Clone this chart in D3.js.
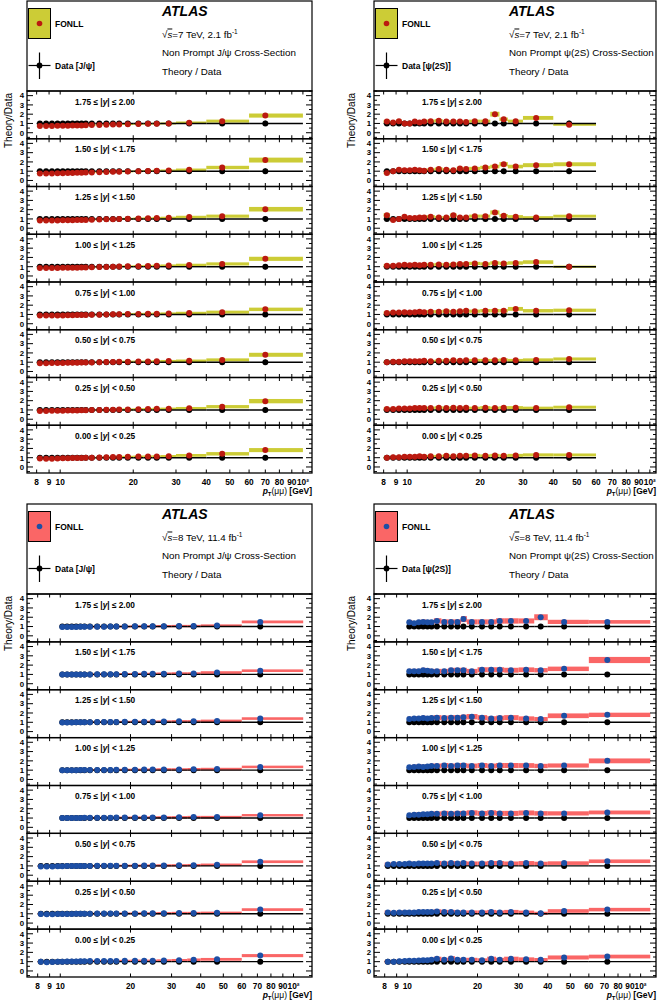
<!DOCTYPE html>
<html><head><meta charset="utf-8">
<script src="https://cdn.jsdelivr.net/npm/d3@7"></script>
<style>body{margin:0;background:#fff} svg{display:block}</style>
</head><body>
<script>
// ---------------- DATA ----------------
const rapLow  = ["1.75","1.50","1.25","1.00","0.75","0.50","0.25","0.00"];
const rapHigh = ["2.00","1.75","1.50","1.25","1.00","0.75","0.50","0.25"];
const rapOp   = ["≤","<","<","<","<","<","<","<"];
const yTickValues = [0,1,2,3,4];
const xTickValues = [8,9,10,20,30,40,50,60,70,80,90,100];
const xTickLabels = ["8","9","10","20","30","40","50","60","70","80","90","10²"];

// 7 TeV non-prompt J/psi
const jpsi7Edges = [8,8.5,9,9.5,10,10.5,11,11.5,12,12.5,13,14,15,16,17,18,20,22,24,26,30,40,60,100];
const jpsi7Pt    = [8.25,8.75,9.25,9.75,10.25,10.75,11.25,11.75,12.25,12.75,13.5,14.5,15.5,16.5,17.5,19,21,23,25,28,34,46.5,70];
const jpsi7Ratio = [
 [0.72,0.72,0.73,0.74,0.75,0.76,0.77,0.78,0.79,0.8,0.82,0.84,0.86,0.88,0.9,0.92,0.95,0.96,0.98,1.0,1.08,1.25,1.85],
 [0.74,0.75,0.76,0.77,0.78,0.8,0.81,0.82,0.83,0.85,0.87,0.89,0.91,0.93,0.95,0.97,1.0,1.02,1.05,1.07,1.15,1.4,2.2],
 [0.82,0.82,0.83,0.84,0.85,0.86,0.87,0.88,0.89,0.9,0.92,0.94,0.96,0.98,1.0,1.02,1.05,1.07,1.1,1.12,1.2,1.3,2.05],
 [0.85,0.86,0.86,0.87,0.88,0.89,0.9,0.9,0.91,0.92,0.94,0.96,0.98,1.0,1.02,1.04,1.06,1.08,1.1,1.12,1.18,1.3,1.85],
 [0.88,0.88,0.89,0.9,0.9,0.91,0.92,0.93,0.94,0.95,0.96,0.98,1.0,1.01,1.02,1.04,1.06,1.07,1.08,1.1,1.15,1.25,1.55],
 [0.9,0.9,0.91,0.91,0.92,0.93,0.94,0.95,0.96,0.97,0.98,1.0,1.01,1.03,1.04,1.06,1.07,1.08,1.1,1.12,1.15,1.25,1.8],
 [0.9,0.9,0.91,0.92,0.92,0.93,0.94,0.95,0.96,0.97,0.99,1.0,1.02,1.03,1.05,1.06,1.08,1.1,1.12,1.13,1.18,1.35,1.95],
 [0.92,0.9,0.9,0.92,0.94,0.95,0.96,0.97,0.98,0.99,1.0,1.03,1.05,1.07,1.08,1.1,1.12,1.13,1.14,1.16,1.25,1.42,1.82]
];
const jpsi7TheoryUnc = [0.06,0.06,0.06,0.06,0.06,0.06,0.07,0.07,0.07,0.07,0.08,0.08,0.08,0.09,0.09,0.1,0.1,0.1,0.11,0.11,0.12,0.13,0.12];
const jpsi7DataUnc   = [0.03,0.03,0.03,0.03,0.03,0.03,0.03,0.03,0.03,0.03,0.03,0.03,0.03,0.03,0.03,0.04,0.04,0.04,0.05,0.05,0.07,0.1,0.28];

// 7 TeV non-prompt psi(2S)
const psi7Edges = [8,8.5,9,9.5,10,10.5,11,11.5,12,13,14,15,16,17,18,20,22,24,26,30,40,60];
const psi7Pt    = [8.25,8.75,9.25,9.75,10.25,10.75,11.25,11.75,12.5,13.5,14.5,15.5,16.5,17.5,19,21,23,25,28,34,46.5];
const psi7Ratio = [
 [1.2,1.1,1.25,1.0,1.0,1.2,1.1,1.2,1.25,1.3,1.2,1.2,1.2,1.15,1.25,1.25,2.0,1.45,1.25,1.6,0.85],
 [0.8,1.0,1.15,1.1,1.1,1.15,1.1,1.05,1.15,1.25,1.15,1.1,1.3,1.25,1.3,1.4,1.5,1.75,1.5,1.65,1.75],
 [1.4,0.9,1.0,1.25,1.1,1.1,1.15,1.15,1.25,1.15,1.15,1.4,1.15,1.15,1.3,1.3,1.7,1.35,1.25,1.15,1.3],
 [1.1,1.1,1.15,1.2,1.15,1.2,1.15,1.2,1.2,1.25,1.2,1.25,1.3,1.3,1.35,1.3,1.4,1.35,1.4,1.5,1.0],
 [1.15,1.2,1.2,1.25,1.2,1.25,1.3,1.25,1.3,1.3,1.35,1.3,1.35,1.4,1.35,1.4,1.4,1.4,1.6,1.4,1.45],
 [1.0,1.05,1.05,1.1,1.1,1.1,1.1,1.15,1.1,1.15,1.15,1.2,1.15,1.2,1.2,1.2,1.2,1.25,1.2,1.25,1.35],
 [1.1,1.1,1.15,1.15,1.15,1.2,1.2,1.2,1.2,1.25,1.2,1.25,1.2,1.25,1.2,1.25,1.2,1.25,1.25,1.2,1.3],
 [1.0,1.05,1.05,1.1,1.1,1.1,1.15,1.1,1.15,1.15,1.2,1.15,1.2,1.2,1.25,1.2,1.25,1.2,1.25,1.3,1.3]
];
const psi7TheoryUnc = [0.15,0.14,0.14,0.13,0.13,0.13,0.13,0.13,0.13,0.13,0.13,0.13,0.13,0.13,0.13,0.13,0.13,0.13,0.13,0.13,0.12];
const psi7DataUnc   = [0.12,0.1,0.1,0.1,0.08,0.08,0.08,0.08,0.07,0.07,0.07,0.07,0.07,0.07,0.07,0.08,0.08,0.09,0.1,0.12,0.3];

// 8 TeV (forward rapidity panels start at 10 GeV)
const pt8Edges = [8,8.5,9,9.5,10,10.5,11,11.5,12,12.5,13,14,15,16,17,18,20,22,24,26,30,35,40,60,110];
const pt8Pt    = [8.25,8.75,9.25,9.75,10.2,10.7,11.2,11.7,12.2,12.7,13.4,14.4,15.4,16.4,17.4,18.9,20.9,22.9,24.9,27.8,32.3,37.3,47,72];

const jpsi8Ratio = [
 [0.95,0.95,0.96,0.96,0.97,0.97,0.98,0.98,0.99,1.0,1.0,1.0,1.02,1.02,1.03,1.04,1.05,1.05,1.1,1.5],
 [0.98,0.98,0.99,0.99,1.0,1.0,1.0,1.01,1.02,1.02,1.03,1.04,1.05,1.06,1.07,1.08,1.1,1.1,1.2,1.4],
 [0.98,0.99,0.99,1.0,1.0,1.0,1.01,1.02,1.02,1.03,1.04,1.05,1.06,1.06,1.07,1.08,1.1,1.1,1.15,1.4],
 [0.99,1.0,1.0,1.0,1.01,1.01,1.02,1.02,1.03,1.03,1.04,1.05,1.05,1.06,1.07,1.08,1.08,1.1,1.12,1.35],
 [1.0,1.0,1.0,1.01,1.01,1.02,1.02,1.03,1.03,1.04,1.05,1.05,1.06,1.06,1.07,1.07,1.08,1.1,1.1,1.3],
 [0.95,0.94,0.95,0.96,0.97,0.98,0.98,0.99,0.99,1.0,1.0,1.01,1.01,1.02,1.02,1.03,1.03,1.04,1.04,1.05,1.06,1.08,1.12,1.45],
 [0.97,0.96,0.96,0.97,0.98,0.99,0.99,1.0,1.0,1.01,1.01,1.02,1.02,1.03,1.03,1.04,1.04,1.05,1.05,1.06,1.08,1.08,1.1,1.45],
 [0.98,0.95,0.96,0.98,1.0,1.01,1.02,1.03,1.04,1.05,1.06,1.07,1.07,1.08,1.08,1.09,1.1,1.1,1.1,1.12,1.15,1.2,1.25,1.65]
];
const jpsi8TheoryUnc = [0.08,0.08,0.08,0.08,0.08,0.08,0.09,0.09,0.09,0.09,0.1,0.1,0.1,0.1,0.1,0.1,0.11,0.11,0.11,0.12,0.12,0.12,0.12,0.1];
const jpsi8DataUnc   = [0.03,0.03,0.03,0.03,0.03,0.03,0.03,0.03,0.03,0.03,0.03,0.03,0.03,0.03,0.03,0.03,0.03,0.03,0.03,0.04,0.04,0.05,0.06,0.08];

const psi8Ratio = [
 [1.45,1.35,1.45,1.5,1.45,1.45,1.6,1.5,1.5,1.5,1.8,1.5,1.5,1.5,1.6,1.6,1.6,2.0,1.5,1.5],
 [1.35,1.35,1.35,1.45,1.4,1.35,1.35,1.35,1.45,1.45,1.45,1.35,1.5,1.5,1.5,1.45,1.5,1.45,1.6,2.55],
 [1.35,1.4,1.4,1.45,1.4,1.45,1.5,1.45,1.5,1.5,1.55,1.6,1.5,1.4,1.45,1.5,1.4,1.35,1.7,1.8],
 [1.3,1.35,1.4,1.35,1.4,1.45,1.45,1.5,1.45,1.5,1.5,1.45,1.5,1.45,1.5,1.5,1.5,1.45,1.5,2.0],
 [1.3,1.35,1.35,1.4,1.4,1.45,1.45,1.5,1.45,1.5,1.5,1.55,1.5,1.55,1.5,1.5,1.55,1.5,1.5,1.6],
 [1.15,1.2,1.2,1.2,1.25,1.2,1.25,1.25,1.25,1.25,1.3,1.25,1.3,1.25,1.3,1.25,1.25,1.3,1.3,1.25,1.3,1.25,1.3,1.5],
 [1.15,1.1,1.15,1.15,1.15,1.15,1.2,1.2,1.2,1.2,1.25,1.2,1.2,1.15,1.15,1.15,1.15,1.2,1.15,1.2,1.15,1.05,1.3,1.45],
 [1.0,1.0,1.05,1.08,1.1,1.1,1.12,1.15,1.15,1.2,1.3,1.2,1.35,1.2,1.2,1.2,1.15,1.3,1.2,1.3,1.25,1.2,1.45,1.55]
];
const psi8TheoryUnc = [0.18,0.18,0.18,0.18,0.18,0.18,0.18,0.18,0.18,0.18,0.18,0.18,0.18,0.18,0.18,0.18,0.18,0.18,0.18,0.18,0.17,0.16,0.15,0.13];
const psi8DataUnc   = [0.06,0.05,0.05,0.05,0.05,0.05,0.05,0.05,0.05,0.05,0.05,0.05,0.05,0.05,0.05,0.05,0.05,0.05,0.06,0.06,0.07,0.08,0.1,0.15];

// ---------------- LAYOUT ----------------
const W = 662, H = 1003;
const FONT = "'Liberation Sans', Arial, Helvetica, sans-serif";
const svg = d3.select("body").append("svg").attr("width", W).attr("height", H)
  .style("font-family", FONT);

const quads = [
 {x0:27, x1:312, top:1,   pTop:91,  pBot:473, dom:[7.3,109], ylabX:11.5,
  edges:jpsi7Edges, pt:jpsi7Pt, ratio:jpsi7Ratio, tUnc:jpsi7TheoryUnc, dUnc:jpsi7DataUnc,
  band:"#cccc36", dot:"#bb1a10", energy:"=7 TeV, 2.1 fb", state:"J/ψ"},
 {x0:374, x1:656, top:1,  pTop:91,  pBot:473, dom:[7.3,106], ylabX:355,
  edges:psi7Edges, pt:psi7Pt, ratio:psi7Ratio, tUnc:psi7TheoryUnc, dUnc:psi7DataUnc,
  band:"#cccc36", dot:"#bb1a10", energy:"=7 TeV, 2.1 fb", state:"ψ(2S)"},
 {x0:27, x1:312, top:504, pTop:594, pBot:977, dom:[7.2,120], ylabX:11.5,
  edges:pt8Edges, pt:pt8Pt, ratio:jpsi8Ratio, tUnc:jpsi8TheoryUnc, dUnc:jpsi8DataUnc,
  band:"#fa6666", dot:"#1d4fa5", energy:"=8 TeV, 11.4 fb", state:"J/ψ"},
 {x0:374, x1:656, top:504, pTop:594, pBot:977, dom:[7.2,116.4], ylabX:355,
  edges:pt8Edges, pt:pt8Pt, ratio:psi8Ratio, tUnc:psi8TheoryUnc, dUnc:psi8DataUnc,
  band:"#fa6666", dot:"#1d4fa5", energy:"=8 TeV, 11.4 fb", state:"ψ(2S)"}
];

const defs = svg.append("defs");
const R = 3.0;

quads.forEach((q, qi) => {
  const g = svg.append("g");
  const x = d3.scaleLog().domain(q.dom).range([q.x0, q.x1]);

  // ---- legend / header box ----
  g.append("rect").attr("x", q.x0).attr("y", q.top).attr("width", q.x1 - q.x0)
    .attr("height", q.pTop - q.top).attr("fill", "#fff").attr("stroke", "#000").attr("stroke-width", 1.2);
  g.append("rect").attr("x", q.x0 + 1.5).attr("y", q.top + 7.5).attr("width", 22).attr("height", 30)
    .attr("fill", q.band).attr("stroke", "#000").attr("stroke-width", 1);
  g.append("circle").attr("cx", q.x0 + 12.5).attr("cy", q.top + 22.5).attr("r", 2.8).attr("fill", q.dot);
  g.append("text").attr("x", q.x0 + 28).attr("y", q.top + 26).attr("font-size", 8.5)
    .attr("font-weight", "bold").text("FONLL");
  g.append("line").attr("x1", q.x0 + 12.5).attr("x2", q.x0 + 12.5).attr("y1", q.top + 51.5).attr("y2", q.top + 78)
    .attr("stroke", "#000").attr("stroke-width", 1.2);
  g.append("line").attr("x1", q.x0 + 1.5).attr("x2", q.x0 + 23.5).attr("y1", q.top + 64.5).attr("y2", q.top + 64.5)
    .attr("stroke", "#000").attr("stroke-width", 1.2);
  g.append("circle").attr("cx", q.x0 + 12.5).attr("cy", q.top + 64.5).attr("r", 2.9).attr("fill", "#000");
  g.append("text").attr("x", q.x0 + 28).attr("y", q.top + 68).attr("font-size", 8.5)
    .attr("font-weight", "bold").text("Data [" + q.state + "]");

  const tx = q.x0 + 135;
  g.append("text").attr("x", tx).attr("y", q.top + 14.5).attr("font-size", 14)
    .attr("font-weight", "bold").attr("font-style", "italic").text("ATLAS");
  const t1 = g.append("text").attr("x", tx).attr("y", q.top + 36.5).attr("font-size", 9.8);
  t1.append("tspan").text("√");
  t1.append("tspan").attr("font-style", "italic").style("text-decoration", "overline").text("s");
  t1.append("tspan").text(q.energy);
  t1.append("tspan").attr("font-size", 6.5).attr("dy", -4).text("-1");
  g.append("text").attr("x", tx).attr("y", q.top + 55).attr("font-size", 9.8)
    .text("Non Prompt " + q.state + " Cross-Section");
  g.append("text").attr("x", tx).attr("y", q.top + 73.5).attr("font-size", 9.8).text("Theory / Data");

  // ---- y axis title ----
  g.append("text").attr("transform", `translate(${q.ylabX},${q.pTop + 2}) rotate(-90)`)
    .attr("text-anchor", "end").attr("font-size", 10).text("Theory/Data");

  // ---- panels ----
  const ph = (q.pBot - q.pTop) / 8;
  for (let i = 0; i < 8; i++) {
    const py = q.pTop + i * ph;
    const y = d3.scaleLinear().domain([-0.65, 4.5]).range([py + ph, py]);
    const pg = g.append("g");
    const cid = `clip${qi}_${i}`;
    defs.append("clipPath").attr("id", cid).append("rect")
      .attr("x", q.x0).attr("y", py).attr("width", q.x1 - q.x0).attr("height", ph);

    const vals = q.ratio[i];
    const off = q.edges.length - 1 - vals.length;
    const bins = vals.map((v, j) => {
      const k = off + j;
      return {lo: q.edges[k], hi: q.edges[k + 1], pt: q.pt[k], v, tu: q.tUnc[k], du: q.dUnc[k]};
    });
    const body = pg.append("g").attr("clip-path", `url(#${cid})`);
    // theory bands
    body.selectAll("rect.band").data(bins).join("rect").attr("class", "band")
      .attr("x", d => x(d.lo)).attr("width", d => x(d.hi) - x(d.lo))
      .attr("y", d => y(d.v * (1 + d.tu))).attr("height", d => y(d.v * (1 - d.tu)) - y(d.v * (1 + d.tu)))
      .attr("fill", q.band);
    // data: ratio 1 with x-bin error and vertical error
    body.selectAll("line.dx").data(bins).join("line").attr("class", "dx")
      .attr("x1", d => x(d.lo)).attr("x2", d => x(d.hi)).attr("y1", y(1)).attr("y2", y(1))
      .attr("stroke", "#000").attr("stroke-width", 1.4);
    body.selectAll("line.dy").data(bins).join("line").attr("class", "dy")
      .attr("x1", d => x(d.pt)).attr("x2", d => x(d.pt)).attr("y1", d => y(1 - d.du)).attr("y2", d => y(1 + d.du))
      .attr("stroke", "#000").attr("stroke-width", 1.4);
    body.selectAll("circle.dd").data(bins).join("circle").attr("class", "dd")
      .attr("cx", d => x(d.pt)).attr("cy", y(1)).attr("r", R).attr("fill", "#000");
    // theory points
    body.selectAll("circle.th").data(bins).join("circle").attr("class", "th")
      .attr("cx", d => x(d.pt)).attr("cy", d => y(d.v)).attr("r", R).attr("fill", q.dot);

    // frame
    pg.append("rect").attr("x", q.x0).attr("y", py).attr("width", q.x1 - q.x0).attr("height", ph)
      .attr("fill", "none").attr("stroke", "#000").attr("stroke-width", 1.3);

    // y ticks (both sides)
    const yMinor = d3.range(-0.5, 4.51, 0.5);
    yMinor.forEach(t => {
      const major = Number.isInteger(t) && t >= 0;
      const len = major ? 6 : 3;
      pg.append("line").attr("x1", q.x0).attr("x2", q.x0 + len).attr("y1", y(t)).attr("y2", y(t))
        .attr("stroke", "#000").attr("stroke-width", 1);
      pg.append("line").attr("x1", q.x1).attr("x2", q.x1 - len).attr("y1", y(t)).attr("y2", y(t))
        .attr("stroke", "#000").attr("stroke-width", 1);
    });
    pg.selectAll("text.yl").data(yTickValues).join("text").attr("class", "yl")
      .attr("x", q.x0 - 3).attr("y", d => y(d) + 2.8).attr("text-anchor", "end")
      .attr("font-size", 7.8).attr("font-weight", "bold").text(d => d);

    // x ticks top & bottom
    xTickValues.forEach(t => {
      pg.append("line").attr("x1", x(t)).attr("x2", x(t)).attr("y1", py + ph).attr("y2", py + ph - 3.5)
        .attr("stroke", "#000").attr("stroke-width", 1);
      pg.append("line").attr("x1", x(t)).attr("x2", x(t)).attr("y1", py).attr("y2", py + 3.5)
        .attr("stroke", "#000").attr("stroke-width", 1);
    });

    // rapidity label
    const lt = pg.append("text").attr("x", q.x0 + 48).attr("y", py + 13.5)
      .attr("font-size", 8.3).attr("font-weight", "bold");
    lt.append("tspan").text(`${rapLow[i]} ≤ |`);
    lt.append("tspan").attr("font-style", "italic").text("y");
    lt.append("tspan").text(`| ${rapOp[i]} ${rapHigh[i]}`);
  }

  // ---- x axis labels ----
  g.selectAll("text.xl").data(xTickValues).join("text").attr("class", "xl")
    .attr("x", d => x(d)).attr("y", q.pBot + 12).attr("text-anchor", "middle")
    .attr("font-size", 8.3).attr("font-weight", "bold").text((d, i) => xTickLabels[i]);
  const at = g.append("text").attr("x", q.x1).attr("y", q.pBot + 20.5).attr("text-anchor", "end")
    .attr("font-size", 8.5).attr("font-weight", "bold");
  at.append("tspan").attr("font-style", "italic").text("p");
  at.append("tspan").attr("font-size", 6).attr("dy", 2.5).text("T");
  at.append("tspan").attr("dy", -2.5).attr("font-weight", "normal").text("(μμ)");
  at.append("tspan").text(" [GeV]");
});
</script>
</body></html>
